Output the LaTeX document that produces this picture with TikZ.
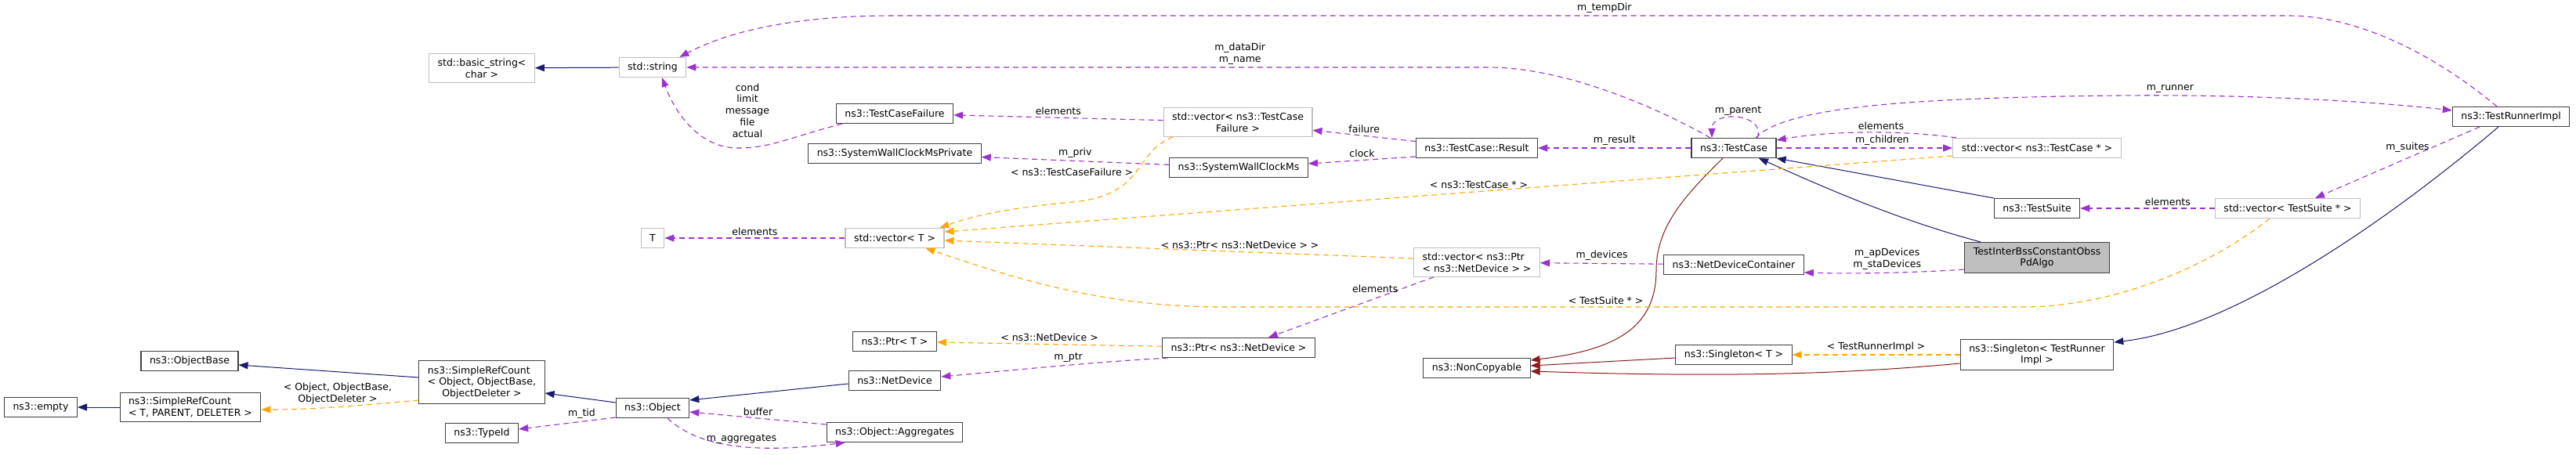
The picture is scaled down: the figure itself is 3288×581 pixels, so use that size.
\documentclass[tikz,border=0pt]{standalone}
\usepackage{fontspec}
\setmainfont{DejaVu Sans}
\usepackage{xcolor}
\usepackage{tikz}
\usetikzlibrary{arrows.meta,calc}
\definecolor{inhblue}{HTML}{191970}
\definecolor{usepurple}{HTML}{9A32CD}
\definecolor{tplorange}{HTML}{FFA500}
\definecolor{privred}{HTML}{8B1A1A}
\definecolor{boxgray}{HTML}{404040}
\definecolor{extgray}{HTML}{BFBFBF}

\begin{document}
\begin{tikzpicture}[x=1pt, y=-1pt,
    every node/.style={font=\fontsize{12.5}{14.8}\selectfont},
    cls/.style={rectangle, draw=boxgray, fill=white, line width=1.1pt, align=center, inner xsep=11pt, inner ysep=6pt, minimum height=25pt},
    ext/.style={cls, draw=extgray},
    mainbox/.style={cls, fill=extgray},
    lbl/.style={inner sep=3pt, align=center},
    tip/.style={-{Triangle[length=12pt,width=9pt]}},
    inh/.style={tip, draw=inhblue, line width=1pt},
    uses/.style={tip, draw=usepurple, line width=1.1pt, dash pattern=on 7pt off 5pt},
    tpl/.style={tip, draw=tplorange, line width=1.1pt, dash pattern=on 7pt off 5pt},
    priv/.style={tip, draw=privred, line width=1pt}]
    \useasboundingbox (0,0) rectangle (3288,581);

    % classes
    \node[cls] (empty) at (52,520) {ns3::empty};
    \node[cls, align=left] (srcT) at (243,520) {ns3::SimpleRefCount\\< T, PARENT, DELETER >};
    \node[cls] (objbase) at (242,461) {ns3::ObjectBase};
    \node[cls] (srcObj) at (615,488) {\begin{tabular}[b]{@{}l@{}}ns3::SimpleRefCount\\< Object, ObjectBase,\end{tabular}\\ObjectDeleter >};
    \node[ext] (bstring) at (615,87) {std::basic\_string<\\char >};
    \node[ext] (string) at (833,86) {std::string};
    \node[cls] (typeid) at (615,553) {ns3::TypeId};
    \node[ext] (tT) at (833,304) {T};
    \node[cls] (object) at (833,521) {ns3::Object};
    \node[cls] (failure) at (1142,145) {ns3::TestCaseFailure};
    \node[cls] (clockpriv) at (1142,196) {ns3::SystemWallClockMsPrivate};
    \node[ext] (vecT) at (1142,304) {std::vector< T >};
    \node[cls] (ptrT) at (1142,436) {ns3::Ptr< T >};
    \node[cls] (netdev) at (1142,486) {ns3::NetDevice};
    \node[cls] (aggr) at (1142,552) {ns3::Object::Aggregates};
    \node[ext] (vecfail) at (1580,156) {std::vector< ns3::TestCase\\Failure >};
    \node[cls] (clock) at (1581,214) {ns3::SystemWallClockMs};
    \node[cls] (ptrnd) at (1581,444) {ns3::Ptr< ns3::NetDevice >};
    \node[cls] (result) at (1885,189) {ns3::TestCase::Result};
    \node[ext, align=left] (vecptr) at (1885,335) {std::vector< ns3::Ptr\\< ns3::NetDevice > >};
    \node[cls] (noncopy) at (1885,470) {ns3::NonCopyable};
    \node[cls] (testcase) at (2213,189) {ns3::TestCase};
    \node[cls] (ndc) at (2213,338) {ns3::NetDeviceContainer};
    \node[cls] (singT) at (2213,453) {ns3::Singleton< T >};
    \node[ext] (vectc) at (2600,189) {std::vector< ns3::TestCase * >};
    \node[cls] (suite) at (2600,266) {ns3::TestSuite};
    \node[mainbox] (algo) at (2600,329) {TestInterBssConstantObss\\PdAlgo};
    \node[cls] (singR) at (2600,453) {ns3::Singleton< TestRunner\\Impl >};
    \node[ext] (vects) at (2920,266) {std::vector< TestSuite * >};
    \node[cls] (runner) at (3205,149) {ns3::TestRunnerImpl};

    % inheritance
    \draw[inh] (string) -- (bstring);
    \draw[inh] (suite.north west) -- (testcase.south east);
    \draw[inh] ($(algo.north west)+(21,0)$) .. controls (2420,280) and (2330,240) .. ($(testcase.south)+(32,0)$);
    \draw[inh] ($(netdev.west)+(0,4)$) -- ($(object.north east)+(0,3)$);
    \draw[inh] ($(object.west)+(0,-7)$) -- ($(srcObj.east)+(0,14)$);
    \draw[inh] ($(srcObj.west)+(0,-6)$) -- ($(objbase.east)+(0,5)$);
    \draw[inh] (srcT) -- (empty);
    \draw[inh] ($(runner.south)+(-16,0)$) .. controls (3050,280) and (2850,420) .. ($(singR.north east)+(0,4)$);
    \draw[priv] ($(testcase.south)+(-14,0)$) .. controls (2150,250) and (2114,290) .. (2114,345) .. controls (2114,420) and (2060,447) .. ($(noncopy.east)+(0,-10)$);
    \draw[priv] ($(singT.west)+(0,4)$) -- ($(noncopy.east)+(0,-3)$);
    \draw[priv] ($(singR.west)+(0,11)$) .. controls (2350,478) and (2200,482) .. ($(noncopy.east)+(0,4)$);

    % members
    \draw[uses] ($(runner.north)+(-18,0)$) .. controls (3120,80) and (3020,20) .. (2920,20) -- node[lbl, above, pos=0.49] {m\_tempDir} (1140,20) .. controls (1000,20) and (920,45) .. ($(string.north east)+(-9,0)$);
    \draw[uses] ($(testcase.north)+(-30,0)$) .. controls (2120,140) and (2000,86) .. (1900,86) -- node[lbl, above, pos=0.31] {m\_dataDir\\m\_name} (string.east);
    \draw[uses] ($(failure.south west)+(8,0)$) .. controls (1010,175) and (980,190) .. (940,189) node[lbl, above=10pt, xshift=14pt] {cond\\limit\\message\\file\\actual} .. controls (890,188) and (860,140) .. ($(string.south)+(12,0)$);
    \draw[uses] (vecfail) -- node[lbl, above] {elements} (failure);
    \draw[uses] (clock) -- node[lbl, above] {m\_priv} (clockpriv);
    \draw[uses] (vecT) -- node[lbl, above] {elements} (tT);
    \draw[uses] (result) -- node[lbl, above] {failure} (vecfail);
    \draw[uses] ($(result.south west)+(0,-2)$) -- node[lbl, above] {clock} ($(clock.east)+(0,-5)$);
    \draw[uses] (testcase) -- node[lbl, above] {m\_result} (result);
    \draw[uses] ($(testcase.north)+(30,0)$) .. controls (2255,145) and (2185,140) .. ($(testcase.north)+(-28,0)$) node[lbl, above, pos=0.5] {m\_parent};
    \draw[uses] ($(vectc.north west)+(5,0)$) .. controls (2420,165) and (2330,168) .. ($(testcase.north east)+(0,3)$) node[lbl, above, pos=0.4] {elements};
    \draw[uses] (testcase) -- node[lbl, above, pos=0.6] {m\_children} (vectc);
    \draw[uses] ($(testcase.north)+(28,0)$) .. controls (2280,135) and (2450,125) .. (2700,122) .. controls (2900,120) and (3050,132) .. ($(runner.west)+(0,-8)$) node[lbl, above, pos=0.12] {m\_runner};
    \draw[uses] ($(algo.south west)+(0,-5)$) .. controls (2450,348) and (2370,350) .. ($(ndc.east)+(0,10)$) node[lbl, above, pos=0.5] {m\_apDevices\\m\_staDevices};
    \draw[uses] (ndc) -- node[lbl, above] {m\_devices} (vecptr);
    \draw[uses] ($(vecptr.south west)+(26,0)$) -- node[lbl, left, pos=0.2] {elements} ($(ptrnd.north east)+(-60,0)$);
    \draw[uses] ($(ptrnd.south west)+(8,0)$) .. controls (1400,462) and (1300,472) .. ($(netdev.east)+(0,-5)$) node[lbl, above, pos=0.45] {m\_ptr};
    \draw[uses] ($(object.south west)+(0,-1)$) -- node[lbl, above, pos=0.35] {m\_tid} ($(typeid.east)+(0,-5)$);
    \draw[uses] ($(aggr.west)+(0,-10)$) -- node[lbl, above] {buffer} ($(object.east)+(0,5)$);
    \draw[uses] ($(object.south)+(19,0)$) .. controls (890,570) and (960,580) .. ($(aggr.south west)+(24,0)$) node[lbl, above, pos=0.55] {m\_aggregates};
    \draw[uses] ($(runner.south)+(-40,0)$) -- node[lbl, above, pos=0.4, xshift=-8pt] {m\_suites} ($(vects.north)+(35,0)$);
    \draw[uses] (vects) -- node[lbl, above, pos=0.35] {elements} (suite);

    % template instances
    \draw[tpl] ($(vecfail.south west)+(13,0)$) .. controls (1445,195) and (1465,248) .. (1370,258) node[lbl, left, pos=0.5] {< ns3::TestCaseFailure >} .. controls (1290,265) and (1240,276) .. ($(vecT.north east)+(-6,0)$);
    \draw[tpl] ($(vectc.west)+(0,10)$) -- node[lbl, above, pos=0.47] {< ns3::TestCase * >} ($(vecT.east)+(0,-8)$);
    \draw[tpl] ($(vecptr.west)+(0,-5)$) -- node[lbl, above, pos=0.37] {< ns3::Ptr< ns3::NetDevice > >} ($(vecT.east)+(0,3)$);
    \draw[tpl] ($(vects.south)+(-23,0)$) .. controls (2820,340) and (2700,392) .. (2580,392) -- node[lbl, above, pos=0.52] {< TestSuite * >} (1560,392) .. controls (1400,392) and (1280,350) .. ($(vecT.south east)+(-24,0)$);
    \draw[tpl] (ptrnd) -- node[lbl, above] {< ns3::NetDevice >} (ptrT);
    \draw[tpl] ($(srcObj.west)+(0,23)$) .. controls (460,518) and (400,523) .. ($(srcT.east)+(0,3)$) node[lbl, above, pos=0.5] {< Object, ObjectBase,\\ObjectDeleter >};
    \draw[tpl] (singR) -- node[lbl, above] {< TestRunnerImpl >} (singT);
\end{tikzpicture}
\end{document}
